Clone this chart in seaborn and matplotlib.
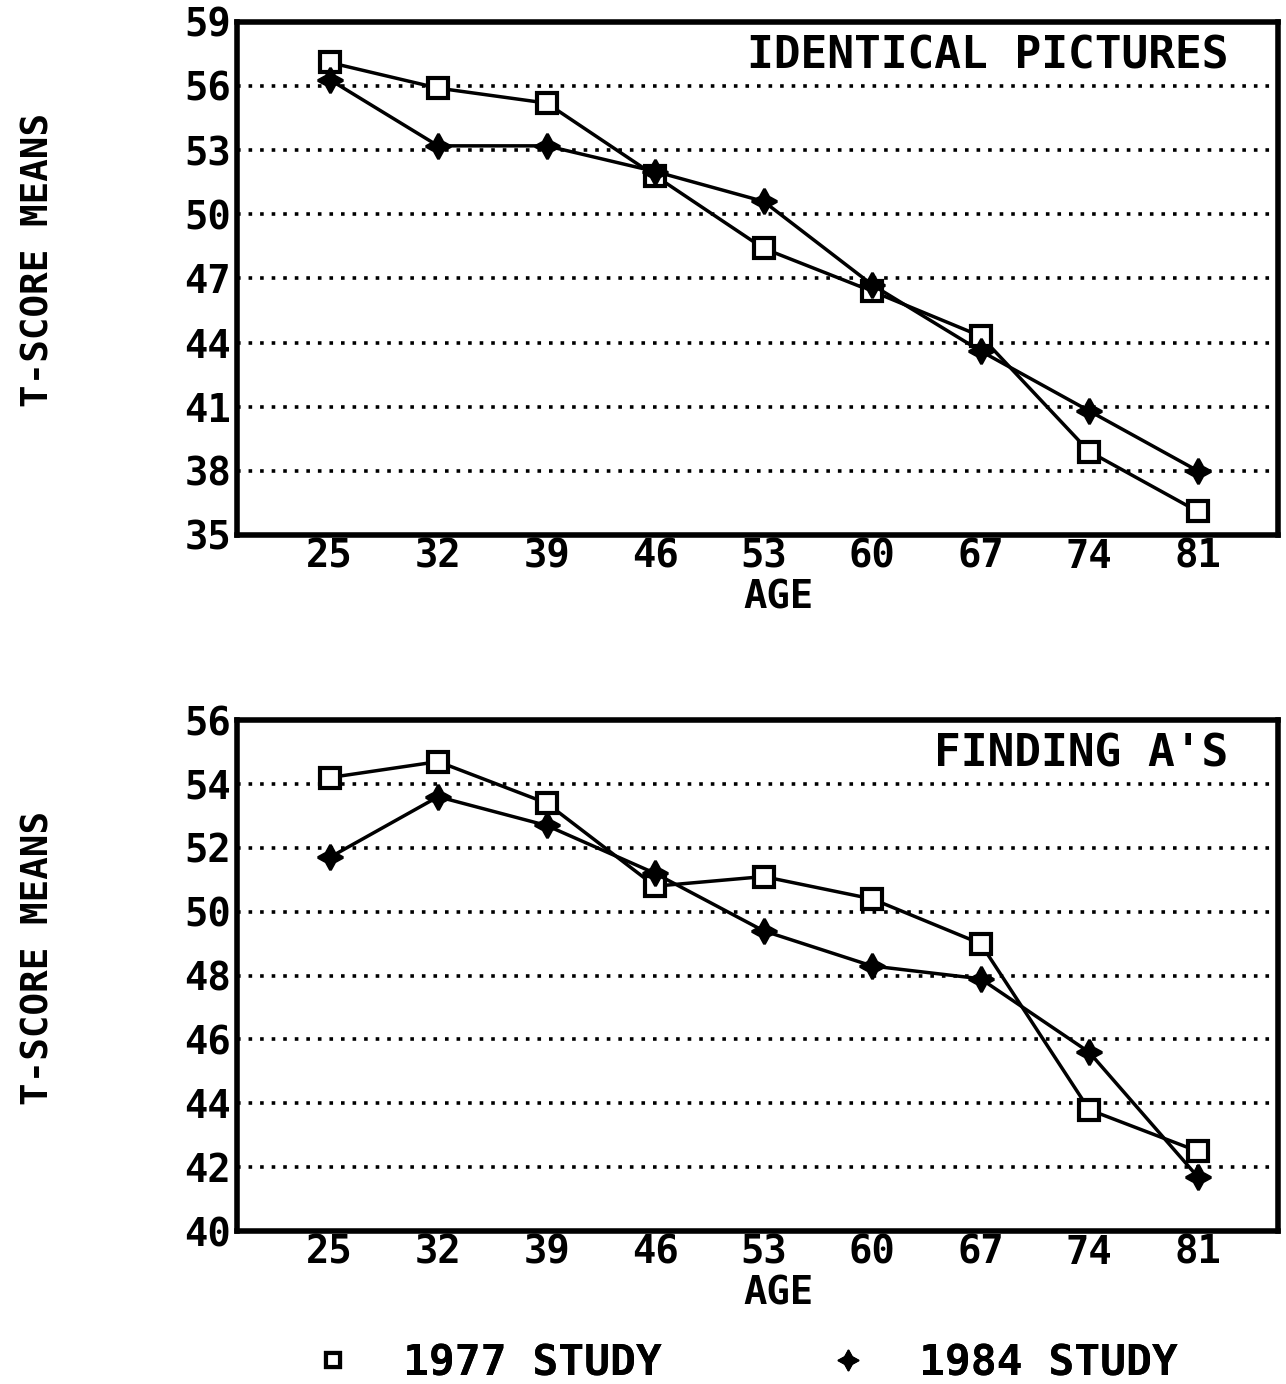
import matplotlib
matplotlib.use("Agg")
import matplotlib.pyplot as plt
import seaborn as sns
import pandas as pd
from matplotlib.lines import Line2D

ages = [25, 32, 39, 46, 53, 60, 67, 74, 81]
ident_1977 = [57.1, 55.9, 55.2, 51.8, 48.4, 46.4, 44.3, 38.9, 36.1]
ident_1984 = [56.3, 53.2, 53.2, 52.0, 50.6, 46.7, 43.6, 40.8, 38.0]
finding_1977 = [54.2, 54.7, 53.4, 50.8, 51.1, 50.4, 49.0, 43.8, 42.5]
finding_1984 = [51.7, 53.6, 52.7, 51.2, 49.4, 48.3, 47.9, 45.6, 41.7]
top_yticks = [35, 38, 41, 44, 47, 50, 53, 56, 59]
bot_yticks = [40, 42, 44, 46, 48, 50, 52, 54, 56]
series_names = ["1977 STUDY", "1984 STUDY"]

sns.set_style("white")
plt.rcParams['font.family'] = ['DejaVu Sans Mono', 'DejaVu Sans']
plt.rcParams['font.weight'] = 'bold'
plt.rcParams['text.color'] = 'black'
plt.rcParams['axes.labelcolor'] = 'black'
plt.rcParams['xtick.color'] = 'black'
plt.rcParams['ytick.color'] = 'black'

fig = plt.figure(figsize=(12.86, 13.84), dpi=100)
ax1 = fig.add_axes([0.184, 0.6135, 0.810, 0.3707])
ax2 = fig.add_axes([0.184, 0.1105, 0.810, 0.3692])

star = (4, 1, 0)

def panel(ax, v77, v84, yticks, title):
    df = pd.DataFrame({
        "age": ages * 2,
        "score": v77 + v84,
        "study": [series_names[0]] * len(ages) + [series_names[1]] * len(ages),
    })
    for g in yticks[1:-1]:
        ax.axhline(g, color="black", linestyle=(0, (1, 2.2)), linewidth=2.6, zorder=1)
    sns.lineplot(data=df[df.study == series_names[0]], x="age", y="score", ax=ax,
                 color="black", linewidth=2.5, marker="s", markersize=15,
                 markerfacecolor="white", markeredgecolor="black", markeredgewidth=3,
                 legend=False, zorder=3)
    sns.lineplot(data=df[df.study == series_names[1]], x="age", y="score", ax=ax,
                 color="black", linewidth=2.5, marker=star, markersize=18,
                 markerfacecolor="black", markeredgecolor="black", markeredgewidth=2,
                 legend=False, zorder=3)
    ax.set_xlim(19, 86.2)
    ax.set_ylim(yticks[0], yticks[-1])
    ax.set_xticks(ages)
    ax.set_yticks(yticks)
    ax.set_xticklabels([str(a) for a in ages], fontsize=28, fontweight='bold')
    ax.set_yticklabels([str(t) for t in yticks], fontsize=28, fontweight='bold')
    ax.tick_params(axis='both', length=0, pad=4)
    ax.tick_params(axis='x', pad=2)
    for s in ax.spines.values():
        s.set_linewidth(4)
        s.set_color("black")
    ax.set_xlabel("AGE", fontsize=28, fontweight='bold', labelpad=0)
    ax.xaxis.set_label_coords(0.52, -0.085)
    ax.set_ylabel("T-SCORE MEANS", fontsize=27, fontweight='bold', labelpad=0)
    ax.yaxis.set_label_coords(-0.173, 0.535)
    ax.text(0.952, 0.975, title, transform=ax.transAxes, ha="right", va="top",
            fontsize=32, fontweight='bold')

panel(ax1, ident_1977, ident_1984, top_yticks, "IDENTICAL PICTURES")
panel(ax2, finding_1977, finding_1984, bot_yticks, "FINDING A'S")

h1 = Line2D([], [], linestyle="none", marker="s", markersize=10, markerfacecolor="white",
            markeredgecolor="black", markeredgewidth=3)
h2 = Line2D([], [], linestyle="none", marker=star, markersize=15, markerfacecolor="black",
            markeredgecolor="black")
for h, name, xa in [(h1, series_names[0], 0.242), (h2, series_names[1], 0.643)]:
    lg = fig.legend([h], [name], loc="center left", bbox_to_anchor=(xa, 0.015),
                    frameon=False, handlelength=1.0, handletextpad=1.13,
                    borderpad=0, borderaxespad=0,
                    prop={'size': 31, 'weight': 'bold'})
    fig.add_artist(lg)

fig.savefig("out.png", dpi=100)
